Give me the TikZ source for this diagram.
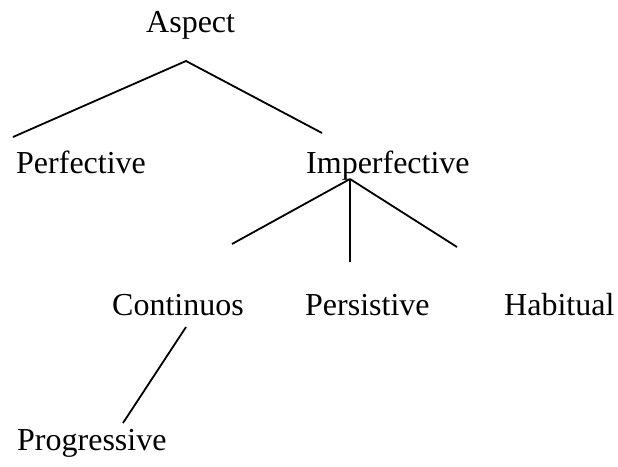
\documentclass[tikz,border=0pt]{standalone}
\usepackage{fontspec}
\setmainfont{Liberation Serif}
\usepackage{tikz}
\usetikzlibrary{positioning,calc}

\begin{document}
\begin{tikzpicture}[
  x=1pt, y=-1pt,
  lbl/.style = {inner sep=0pt, anchor=base west, font=\fontsize{32}{38}\selectfont},
  br/.style  = {line width=1.8pt}
]
\useasboundingbox (0,0) rectangle (618,466);

% ---------- labels ---------------------------------------------------
\node[lbl] (asp)  at (146,32)  {Aspect};
\node[lbl] (perf) at (16,173)  {Perfective};
\node[lbl] (impf) at (306,173) {Imperfective};
\node[lbl] (cont) at (112,315) {Continuos};
\node[lbl] (pers) at (305,315) {Persistive};
\node[lbl] (hab)  at (504,315) {Habitual};
\node[lbl] (prog) at (17,450)  {Progressive};

% ---------- branch ends ----------------------------------------------
\coordinate (aspTop)  at (186,61);
\coordinate (perfEnd) at (13,137);
\coordinate (impfEnd) at (322,133);
\coordinate (impTop)  at (350,179);
\coordinate (contEnd) at (232,244);
\coordinate (persEnd) at (350,262);
\coordinate (habEnd)  at (457,247);
\coordinate (contBot) at (186,327);
\coordinate (progEnd) at (123,423);

% ---------- branches -------------------------------------------------
\draw[br] (perfEnd) -- (aspTop) -- (impfEnd);
\foreach \e in {contEnd,persEnd,habEnd}{\draw[br] (impTop) -- (\e);}
\draw[br] (contBot) -- (progEnd);

\end{tikzpicture}
\end{document}
